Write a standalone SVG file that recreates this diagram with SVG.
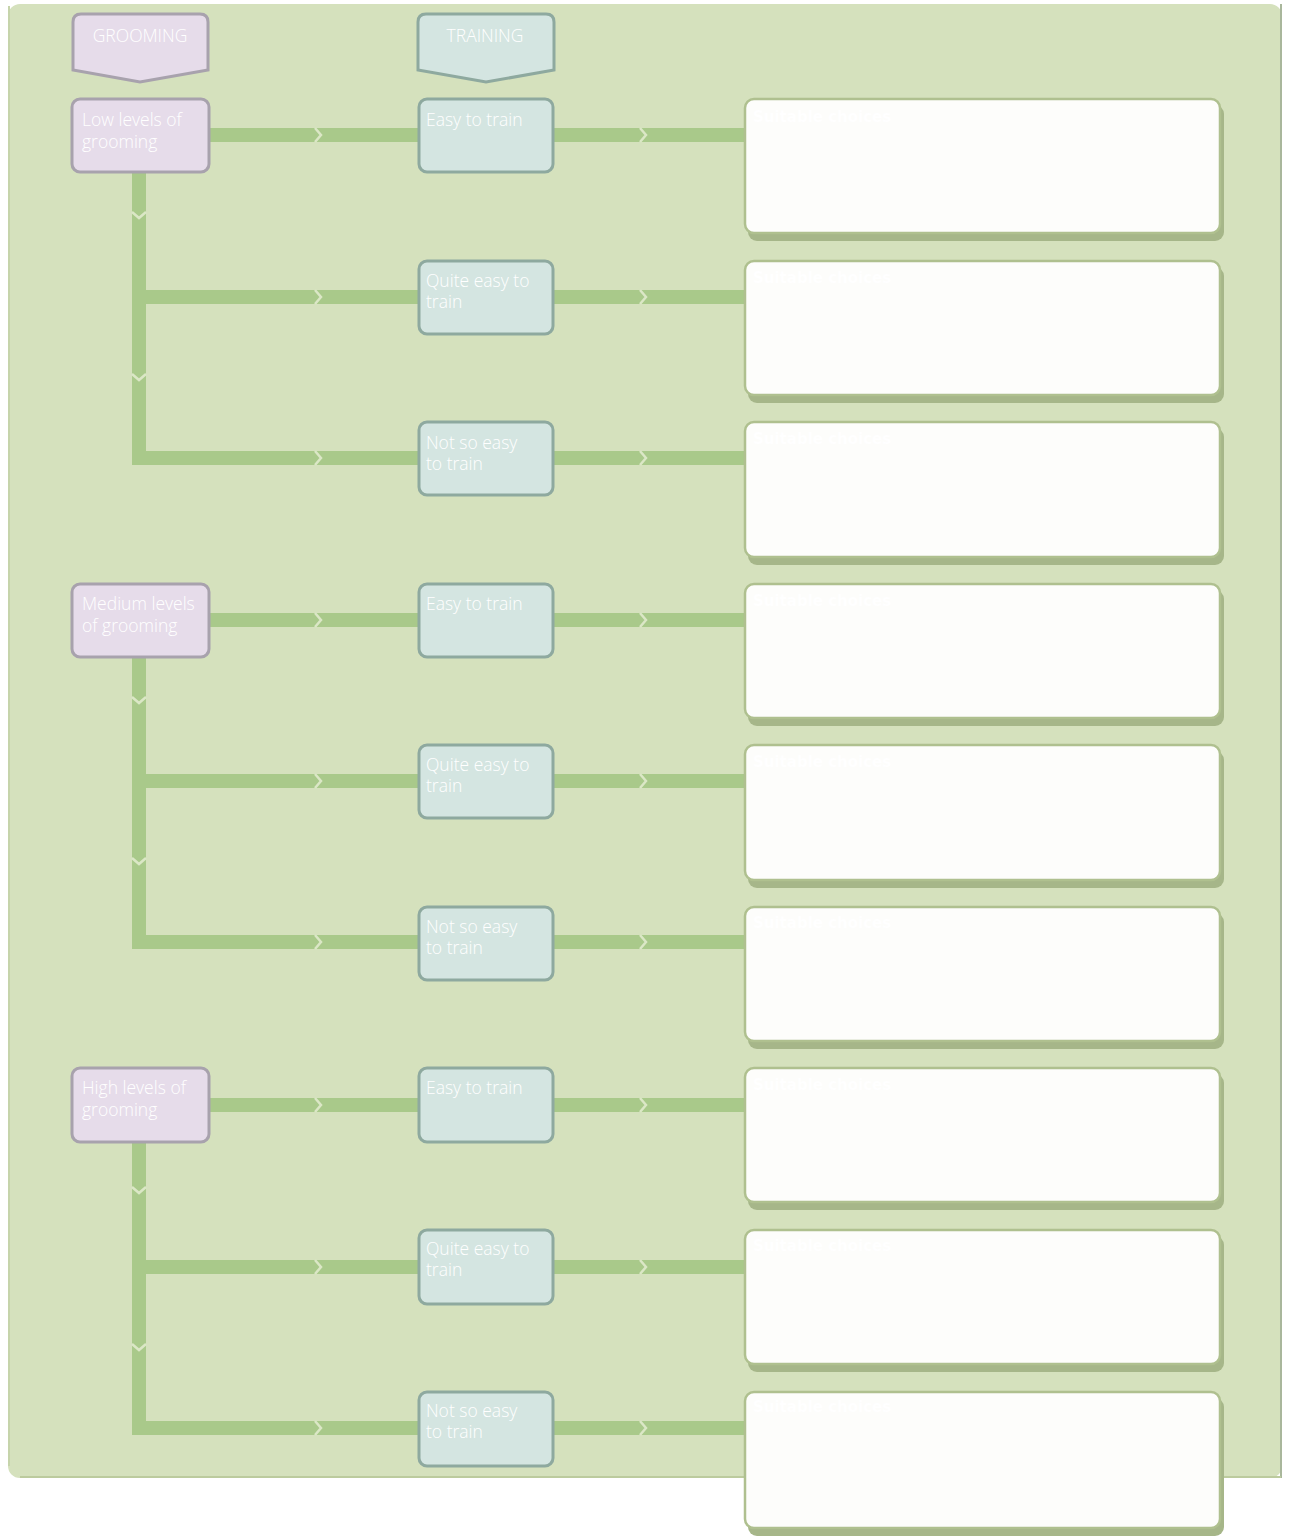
<svg xmlns="http://www.w3.org/2000/svg" width="1293" height="1539" viewBox="0 0 1293 1539">
<defs>
<style>
.bg{fill:#d5e1bd}
.hdrG{fill:#e6dcea;stroke:#a8a2ad;stroke-width:3}
.hdrT{fill:#d4e5e1;stroke:#8ea99f;stroke-width:3}
.nG{fill:#e6dcea;stroke:#a8a2ad;stroke-width:3}
.nT{fill:#d4e5e1;stroke:#8ea99f;stroke-width:3}
.box{fill:#fdfdfb;stroke:#afc08f;stroke-width:2.5}
.shadow{fill:#a6b689}
.lbl{font-family:"Open Sans","DejaVu Sans",sans-serif;font-weight:300;font-size:17.5px;fill:#ffffff}
.hlbl{font-family:"Open Sans","DejaVu Sans",sans-serif;font-weight:300;font-size:17.5px;fill:#ffffff;text-anchor:middle}
.sc{font-family:"DejaVu Sans","Liberation Sans",sans-serif;font-weight:bold;font-size:15px;fill:#ffffff}
.c{fill:none;stroke:#a9c98a;stroke-width:14}
</style>
<marker id="chev" markerUnits="userSpaceOnUse" markerWidth="14" markerHeight="20" viewBox="-7 -10 14 20" refX="0" refY="0" orient="auto">
<path d="M-3,-7 L3,0 L-3,7" fill="none" stroke="#dbe7c6" stroke-width="2.5"/>
</marker>
</defs>

<rect x="0" y="0" width="1293" height="1539" fill="#ffffff"/>
<rect class="bg" x="8" y="4" width="1274" height="1474" rx="12"/>
<line x1="1281" y1="4" x2="1281" y2="1478" stroke="#a9b79c" stroke-width="2"/>
<line x1="20" y1="1477" x2="1281" y2="1477" stroke="#bccb9e" stroke-width="2"/>
<line x1="9" y1="6" x2="9" y2="1466" stroke="#c6d4ab" stroke-width="2"/>

<g id="connectors">
<path class="c" d="M209,135 L318,135 L419,135" marker-mid="url(#chev)"/>
<path class="c" d="M553,135 L643,135 L745,135" marker-mid="url(#chev)"/>
<path class="c" d="M139,172 L139,215 L139,297" marker-mid="url(#chev)"/>
<path class="c" d="M139,297 L139,377 L139,465" marker-mid="url(#chev)"/>
<path class="c" d="M139,297 L318,297 L419,297" marker-mid="url(#chev)"/>
<path class="c" d="M132,458 L318,458 L419,458" marker-mid="url(#chev)"/>
<path class="c" d="M553,297 L643,297 L745,297" marker-mid="url(#chev)"/>
<path class="c" d="M553,458 L643,458 L745,458" marker-mid="url(#chev)"/>
<path class="c" d="M209,620 L318,620 L419,620" marker-mid="url(#chev)"/>
<path class="c" d="M553,620 L643,620 L745,620" marker-mid="url(#chev)"/>
<path class="c" d="M139,657 L139,700 L139,781" marker-mid="url(#chev)"/>
<path class="c" d="M139,781 L139,861 L139,949" marker-mid="url(#chev)"/>
<path class="c" d="M139,781 L318,781 L419,781" marker-mid="url(#chev)"/>
<path class="c" d="M132,942 L318,942 L419,942" marker-mid="url(#chev)"/>
<path class="c" d="M553,781 L643,781 L745,781" marker-mid="url(#chev)"/>
<path class="c" d="M553,942 L643,942 L745,942" marker-mid="url(#chev)"/>
<path class="c" d="M209,1105 L318,1105 L419,1105" marker-mid="url(#chev)"/>
<path class="c" d="M553,1105 L643,1105 L745,1105" marker-mid="url(#chev)"/>
<path class="c" d="M139,1142 L139,1190 L139,1267" marker-mid="url(#chev)"/>
<path class="c" d="M139,1267 L139,1347 L139,1435" marker-mid="url(#chev)"/>
<path class="c" d="M139,1267 L318,1267 L419,1267" marker-mid="url(#chev)"/>
<path class="c" d="M132,1428 L318,1428 L419,1428" marker-mid="url(#chev)"/>
<path class="c" d="M553,1267 L643,1267 L745,1267" marker-mid="url(#chev)"/>
<path class="c" d="M553,1428 L643,1428 L745,1428" marker-mid="url(#chev)"/>
</g>

<g id="hdr-grooming">
<path class="hdrG" d="M81,14 H200 Q208,14 208,22 V70 L140,82 L73,70 V22 Q73,14 81,14 Z"/>
<text class="hlbl" x="140" y="42">GROOMING</text>
</g>
<g id="hdr-training">
<path class="hdrT" d="M426,14 H546 Q554,14 554,22 V70 L486,82 L418,70 V22 Q418,14 426,14 Z"/>
<text class="hlbl" x="485" y="42">TRAINING</text>
</g>

<g id="g-low">
<rect class="nG" x="72" y="99" width="137" height="73" rx="8"/>
<text class="lbl" x="82" y="126">Low levels of</text>
<text class="lbl" x="82" y="148">grooming</text>
</g>
<g id="g-medium">
<rect class="nG" x="72" y="584" width="137" height="73" rx="8"/>
<text class="lbl" x="82" y="610">Medium levels</text>
<text class="lbl" x="82" y="632">of grooming</text>
</g>
<g id="g-high">
<rect class="nG" x="72" y="1068" width="137" height="74" rx="8"/>
<text class="lbl" x="82" y="1094">High levels of</text>
<text class="lbl" x="82" y="1116">grooming</text>
</g>

<g id="t-low-easy">
<rect class="nT" x="419" y="99" width="134" height="73" rx="8"/>
<text class="lbl" x="426" y="126">Easy to train</text>
</g>
<g id="t-low-quite">
<rect class="nT" x="419" y="261" width="134" height="73" rx="8"/>
<text class="lbl" x="426" y="287">Quite easy to</text>
<text class="lbl" x="426" y="308">train</text>
</g>
<g id="t-low-not">
<rect class="nT" x="419" y="422" width="134" height="73" rx="8"/>
<text class="lbl" x="426" y="449">Not so easy</text>
<text class="lbl" x="426" y="470">to train</text>
</g>
<g id="t-med-easy">
<rect class="nT" x="419" y="584" width="134" height="73" rx="8"/>
<text class="lbl" x="426" y="610">Easy to train</text>
</g>
<g id="t-med-quite">
<rect class="nT" x="419" y="745" width="134" height="73" rx="8"/>
<text class="lbl" x="426" y="771">Quite easy to</text>
<text class="lbl" x="426" y="792">train</text>
</g>
<g id="t-med-not">
<rect class="nT" x="419" y="907" width="134" height="73" rx="8"/>
<text class="lbl" x="426" y="933">Not so easy</text>
<text class="lbl" x="426" y="954">to train</text>
</g>
<g id="t-high-easy">
<rect class="nT" x="419" y="1068" width="134" height="74" rx="8"/>
<text class="lbl" x="426" y="1094">Easy to train</text>
</g>
<g id="t-high-quite">
<rect class="nT" x="419" y="1230" width="134" height="74" rx="8"/>
<text class="lbl" x="426" y="1255">Quite easy to</text>
<text class="lbl" x="426" y="1276">train</text>
</g>
<g id="t-high-not">
<rect class="nT" x="419" y="1392" width="134" height="74" rx="8"/>
<text class="lbl" x="426" y="1417">Not so easy</text>
<text class="lbl" x="426" y="1438">to train</text>
</g>

<g id="box1"><rect class="shadow" x="748" y="105" width="476" height="136" rx="9"/><rect class="box" x="745" y="99" width="475" height="134" rx="9"/><text class="sc" x="753" y="122">Suitable choices</text></g>
<g id="box2"><rect class="shadow" x="748" y="267" width="476" height="136" rx="9"/><rect class="box" x="745" y="261" width="475" height="134" rx="9"/><text class="sc" x="753" y="283">Suitable choices</text></g>
<g id="box3"><rect class="shadow" x="748" y="428" width="476" height="137" rx="9"/><rect class="box" x="745" y="422" width="475" height="135" rx="9"/><text class="sc" x="753" y="444">Suitable choices</text></g>
<g id="box4"><rect class="shadow" x="748" y="590" width="476" height="136" rx="9"/><rect class="box" x="745" y="584" width="475" height="134" rx="9"/><text class="sc" x="753" y="606">Suitable choices</text></g>
<g id="box5"><rect class="shadow" x="748" y="751" width="476" height="137" rx="9"/><rect class="box" x="745" y="745" width="475" height="135" rx="9"/><text class="sc" x="753" y="767">Suitable choices</text></g>
<g id="box6"><rect class="shadow" x="748" y="913" width="476" height="136" rx="9"/><rect class="box" x="745" y="907" width="475" height="134" rx="9"/><text class="sc" x="753" y="928">Suitable choices</text></g>
<g id="box7"><rect class="shadow" x="748" y="1074" width="476" height="136" rx="9"/><rect class="box" x="745" y="1068" width="475" height="134" rx="9"/><text class="sc" x="753" y="1090">Suitable choices</text></g>
<g id="box8"><rect class="shadow" x="748" y="1236" width="476" height="136" rx="9"/><rect class="box" x="745" y="1230" width="475" height="134" rx="9"/><text class="sc" x="753" y="1251">Suitable choices</text></g>
<g id="box9"><rect class="shadow" x="748" y="1398" width="476" height="138" rx="9"/><rect class="box" x="745" y="1392" width="475" height="136" rx="9"/><text class="sc" x="753" y="1412">Suitable choices</text></g>
</svg>
